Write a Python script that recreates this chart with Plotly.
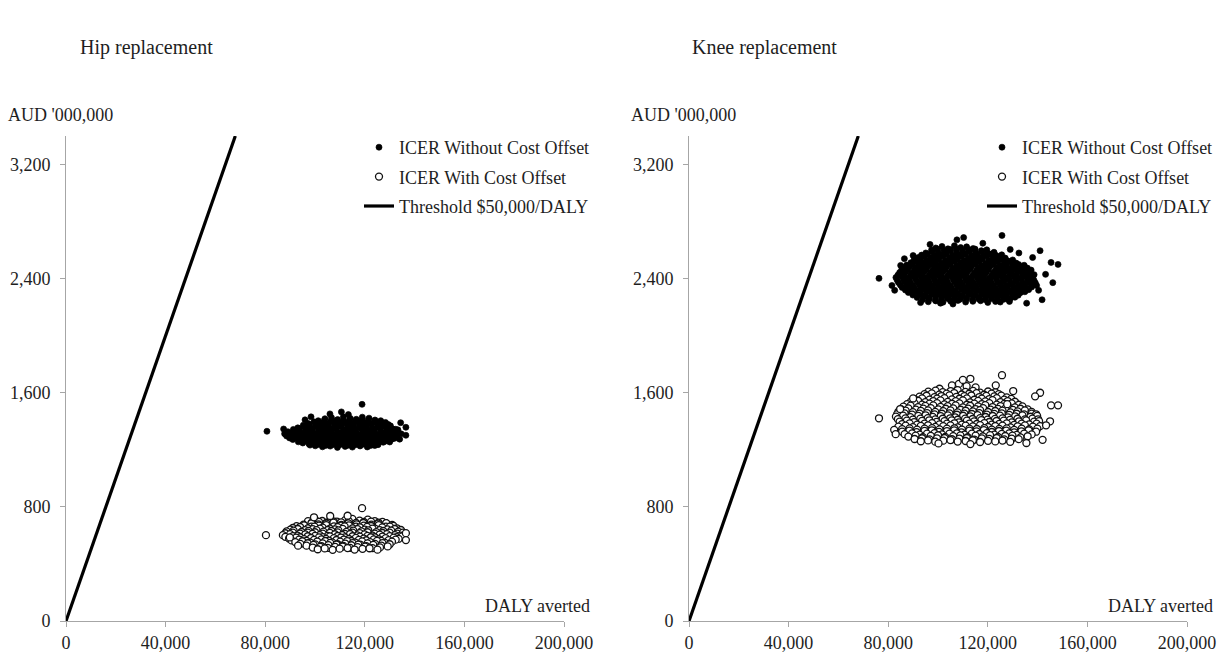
import plotly.graph_objects as go

# ---------------- data (DALY averted, AUD '000,000) ----------------
x_tick_vals = [0, 40000, 80000, 120000, 160000, 200000]
x_tick_text = ["0", "40,000", "80,000", "120,000", "160,000", "200,000"]
y_tick_vals = [0, 800, 1600, 2400, 3200]
y_tick_text = ["0", "800", "1,600", "2,400", "3,200"]

threshold_daly = [0, 68000]
threshold_cost = [0, 3400]

hip_without = [
    (104000,1418),(106600,1426),(109100,1412),(111400,1431),(114200,1420),(116600,1414),(119000,1429),(121700,1422),(124100,1409),(126400,1404),
    (101300,1404),(103800,1409),(106300,1400),(108800,1407),(111300,1403),(113800,1410),(116300,1401),(118800,1406),(121300,1408),(123800,1399),(126300,1395),(128300,1392),
    (97200,1385),(99600,1396),(102100,1389),(104700,1381),(107000,1399),(109600,1387),(112100,1393),(114500,1385),(117200,1397),(119600,1390),(122000,1383),(124600,1394),(127100,1388),(129400,1378),
    (95300,1373),(97800,1378),(100300,1370),(102800,1377),(105300,1380),(107800,1371),(110300,1376),(112800,1379),(115300,1369),(117800,1377),(120300,1374),(122800,1380),(125300,1370),(127800,1375),(130300,1368),
    (93100,1354),(95600,1363),(98000,1357),(100600,1366),(103100,1351),(105500,1361),(108100,1355),(110600,1365),(113000,1349),(115600,1362),(118100,1356),(120500,1367),(123100,1352),(125600,1360),(128000,1363),(130600,1349),(132400,1344),
    (91300,1343),(93800,1348),(96300,1340),(98800,1347),(101300,1350),(103800,1341),(106300,1346),(108800,1349),(111300,1339),(113800,1347),(116300,1344),(118800,1350),(121300,1340),(123800,1345),(126300,1348),(128800,1338),(131300,1346),(133300,1340),
    (89100,1327),(91600,1336),(94000,1324),(96600,1333),(99100,1331),(101500,1325),(104100,1335),(106600,1327),(109000,1321),(111600,1337),(114100,1330),(116500,1324),(119100,1334),(121600,1326),(124000,1332),(126600,1323),(129100,1337),(131500,1328),(133400,1321),
    (87800,1313),(90300,1318),(92800,1310),(95300,1317),(97800,1320),(100300,1311),(102800,1316),(105300,1319),(107800,1309),(110300,1317),(112800,1314),(115300,1320),(117800,1310),(120300,1315),(122800,1318),(125300,1308),(127800,1316),(130300,1311),(132800,1317),(134600,1312),
    (88600,1297),(91100,1306),(93500,1294),(96100,1303),(98600,1300),(101000,1295),(103600,1307),(106100,1298),(108500,1292),(111100,1305),(113600,1301),(116000,1295),(118600,1304),(121100,1297),(123500,1291),(126100,1306),(128600,1300),(131000,1293),(132900,1303),
    (89800,1283),(92300,1288),(94800,1280),(97300,1287),(99800,1290),(102300,1281),(104800,1286),(107300,1289),(109800,1279),(112300,1287),(114800,1284),(117300,1290),(119800,1280),(122300,1285),(124800,1288),(127300,1278),(129800,1286),(132000,1281),
    (91100,1272),(93600,1264),(96000,1276),(98600,1267),(101100,1270),(103500,1263),(106100,1277),(108600,1268),(111000,1265),(113600,1274),(116100,1266),(118500,1276),(121100,1270),(123600,1261),(126000,1271),(128600,1267),(130900,1275),
    (93300,1256),(95800,1261),(98300,1253),(100800,1260),(103300,1262),(105800,1254),(108300,1259),(110800,1261),(113300,1252),(115800,1260),(118300,1257),(120800,1263),(123300,1253),(125800,1258),(128300,1261),(130000,1255),
    (95100,1248),(97600,1241),(100000,1245),(102600,1239),(105100,1251),(107500,1242),(110100,1237),(112600,1246),(115000,1240),(117600,1250),(120100,1244),(122500,1238),(125100,1247),(127400,1253),
    (98000,1233),(101300,1238),(104300,1231),(107300,1237),(110300,1240),(113300,1232),(116300,1236),(119300,1239),(122300,1230),(125300,1236),
    (100100,1228),(103000,1221),(106100,1226),(109000,1217),(112100,1224),(115000,1219),(118100,1227),(121000,1220),(124000,1230),
    (80700,1330),(118900,1519),(136500,1358),(136500,1302),(87400,1346),(88100,1311),(106000,1452),(110600,1466),(98400,1431),(134400,1390),(113400,1447),(96000,1410),(134000,1275),
]

hip_with = [
    (97200,700),(100100,709),(102900,701),(106200,713),(108800,697),(112100,707),(115000,716),(117900,703),(121200,710),(124000,700),(127100,695),
    (98700,690),(101600,695),(104500,688),(107600,697),(110500,692),(113600,699),(116500,687),(119600,694),(122500,696),(125500,689),(128600,684),
    (95400,676),(98600,685),(101400,677),(104600,683),(107400,689),(110600,674),(113400,684),(116700,678),(119400,687),(122600,676),(125400,682),(128600,686),(131000,673),
    (92600,665),(95600,670),(98500,662),(101600,669),(104500,672),(107600,663),(110500,668),(113600,671),(116500,661),(119600,669),(122500,666),(125600,672),(128500,662),(131500,667),
    (91100,652),(94000,659),(97100,649),(99800,661),(103100,655),(106000,648),(109100,658),(111900,663),(115100,650),(118000,657),(120900,660),(124100,647),(127000,656),(130100,662),(132900,650),
    (90100,640),(93100,645),(96000,637),(99100,644),(102000,647),(105100,638),(108000,643),(111100,646),(114000,636),(117100,644),(120000,641),(123100,647),(126000,637),(129100,642),(132000,645),(134500,638),
    (88600,628),(91400,634),(94600,624),(97400,632),(100600,637),(103400,626),(106600,631),(109400,635),(112600,625),(115400,633),(118600,628),(121400,636),(124600,623),(127400,631),(130600,634),(133400,626),
    (88100,615),(91100,620),(94000,612),(97100,619),(100000,622),(103100,613),(106000,618),(109100,621),(112000,611),(115100,619),(118000,616),(121100,622),(124000,612),(127100,617),(130000,620),(133000,613),(135300,619),
    (87100,602),(90000,609),(92900,599),(96100,607),(99000,611),(101900,602),(105100,597),(108000,608),(110900,603),(114100,610),(117000,600),(119900,607),(123100,598),(126000,606),(128900,609),(132100,602),(134400,599),
    (88100,590),(91100,595),(94000,587),(97100,594),(100000,597),(103100,588),(106000,593),(109100,596),(112000,586),(115100,594),(118000,591),(121100,597),(124000,587),(127100,592),(130000,595),(132800,588),(135000,593),
    (89600,578),(92400,584),(95600,574),(98400,582),(101600,586),(104400,576),(107600,581),(110400,585),(113600,575),(116400,583),(119600,578),(122400,587),(125600,573),(128400,581),(131600,584),(133600,576),
    (90600,565),(93600,570),(96600,562),(99600,569),(102600,572),(105600,563),(108600,568),(111600,571),(114600,561),(117600,569),(120600,566),(123600,572),(126600,562),(129600,567),(132400,570),
    (92100,553),(94900,559),(98100,549),(100900,557),(104100,561),(106900,551),(110100,556),(112900,560),(116100,550),(118900,558),(122100,553),(124900,562),(128100,548),(130900,556),
    (94100,540),(97100,545),(100100,537),(103100,544),(106100,547),(109100,538),(112100,543),(115100,546),(118100,536),(121100,544),(124100,541),(127100,546),(130000,538),
    (96600,528),(99400,534),(102600,524),(105400,532),(108600,536),(111400,526),(114600,531),(117400,535),(120600,525),(123400,533),(126600,529),(129200,523),
    (99100,515),(102100,520),(105100,512),(108100,519),(111100,522),(114100,513),(117100,518),(120100,521),(123100,511),(126100,516),
    (101100,503),(103900,509),(107100,499),(109900,507),(113100,511),(115900,501),(119100,506),(121900,510),(125100,500),
    (80300,602),(118900,791),(136500,616),(136500,567),(113100,738),(99600,727),(106100,736),(89900,586),(93200,528),
]

knee_without = [
    (99100,2615),(101600,2626),(104000,2609),(106600,2631),(109100,2618),(111500,2623),(114100,2611),
    (97400,2600),(99900,2606),(102400,2597),(104900,2604),(107400,2608),(109900,2598),(112400,2603),(114900,2607),(117400,2596),(119600,2602),
    (95100,2580),(97600,2591),(100000,2584),(102600,2577),(105100,2593),(107500,2586),(110100,2581),(112600,2590),(115000,2583),(117600,2592),(120100,2576),(122500,2585),
    (93400,2565),(95900,2570),(98400,2562),(100900,2569),(103400,2572),(105900,2563),(108400,2568),(110900,2571),(113400,2561),(115900,2569),(118400,2566),(120900,2572),(123400,2562),(125600,2567),
    (92100,2548),(94500,2556),(97100,2544),(99600,2552),(102000,2559),(104600,2546),(107100,2551),(109500,2557),(112100,2543),(114600,2553),(117000,2549),(119600,2558),(122100,2546),(124500,2552),(127000,2544),
    (90400,2530),(92900,2535),(95400,2527),(97900,2534),(100400,2537),(102900,2528),(105400,2533),(107900,2536),(110400,2526),(112900,2534),(115400,2531),(117900,2537),(120400,2527),(122900,2532),(125400,2535),(127900,2525),(130000,2531),
    (89100,2512),(91600,2519),(94000,2509),(96600,2521),(99100,2514),(101500,2508),(104100,2518),(106600,2522),(109000,2510),(111600,2516),(114100,2513),(116500,2520),(119100,2507),(121600,2515),(124000,2521),(126600,2511),(129100,2518),(131400,2509),
    (87400,2495),(89900,2500),(92400,2492),(94900,2499),(97400,2502),(99900,2493),(102400,2498),(104900,2501),(107400,2491),(109900,2499),(112400,2496),(114900,2502),(117400,2492),(119900,2497),(122400,2500),(124900,2490),(127400,2498),(129900,2493),(132400,2499),(134600,2494),
    (86100,2478),(88600,2485),(91000,2474),(93600,2483),(96100,2488),(98500,2476),(101100,2481),(103600,2486),(106000,2473),(108600,2484),(111100,2479),(113500,2487),(116100,2475),(118600,2482),(121000,2489),(123600,2477),(126100,2483),(128500,2472),(131100,2485),(133600,2479),(135900,2474),
    (85400,2460),(87900,2465),(90400,2457),(92900,2464),(95400,2467),(97900,2458),(100400,2463),(102900,2466),(105400,2456),(107900,2464),(110400,2461),(112900,2467),(115400,2457),(117900,2462),(120400,2465),(122900,2455),(125400,2463),(127900,2458),(130400,2464),(132900,2459),(135400,2465),(137400,2460),
    (84600,2443),(87100,2450),(89500,2438),(92100,2447),(94600,2452),(97000,2441),(99600,2446),(102100,2451),(104500,2439),(107100,2448),(109600,2444),(112000,2453),(114600,2440),(117100,2447),(119500,2449),(122100,2437),(124600,2445),(127000,2451),(129600,2442),(132100,2448),(134500,2440),(137000,2446),
    (83900,2425),(86400,2430),(88900,2422),(91400,2429),(93900,2432),(96400,2423),(98900,2428),(101400,2431),(103900,2421),(106400,2429),(108900,2426),(111400,2432),(113900,2422),(116400,2427),(118900,2430),(121400,2420),(123900,2428),(126400,2423),(128900,2429),(131400,2424),(133900,2430),(136400,2425),(138600,2428),
    (83100,2408),(85600,2415),(88000,2404),(90600,2412),(93100,2417),(95500,2406),(98100,2411),(100600,2416),(103000,2403),(105600,2413),(108100,2409),(110500,2418),(113100,2405),(115600,2412),(118000,2414),(120600,2402),(123100,2410),(125500,2416),(128100,2407),(130600,2413),(133000,2405),(135600,2411),(138100,2404),
    (83600,2390),(86100,2395),(88600,2387),(91100,2394),(93600,2397),(96100,2388),(98600,2393),(101100,2396),(103600,2386),(106100,2394),(108600,2391),(111100,2397),(113600,2387),(116100,2392),(118600,2395),(121100,2385),(123600,2393),(126100,2388),(128600,2394),(131100,2389),(133600,2395),(136100,2390),(138600,2386),
    (84100,2373),(86600,2380),(89000,2369),(91600,2378),(94100,2382),(96500,2371),(99100,2376),(101600,2381),(104000,2368),(106600,2379),(109100,2374),(111500,2383),(114100,2370),(116600,2377),(119000,2380),(121600,2367),(124100,2375),(126500,2381),(129100,2372),(131600,2378),(134000,2370),(136600,2376),(139100,2369),
    (84900,2355),(87400,2360),(89900,2352),(92400,2359),(94900,2362),(97400,2353),(99900,2358),(102400,2361),(104900,2351),(107400,2359),(109900,2356),(112400,2362),(114900,2352),(117400,2357),(119900,2360),(122400,2350),(124900,2358),(127400,2353),(129900,2359),(132400,2354),(134900,2360),(137400,2355),(139600,2352),
    (85600,2338),(88100,2345),(90500,2334),(93100,2343),(95600,2347),(98000,2336),(100600,2341),(103100,2346),(105500,2333),(108100,2344),(110600,2339),(113000,2348),(115600,2335),(118100,2342),(120500,2345),(123100,2332),(125600,2340),(128000,2346),(130600,2337),(133100,2343),(135500,2335),(137600,2341),
    (86900,2320),(89400,2325),(91900,2317),(94400,2324),(96900,2327),(99400,2318),(101900,2323),(104400,2326),(106900,2316),(109400,2324),(111900,2321),(114400,2327),(116900,2317),(119400,2322),(121900,2325),(124400,2315),(126900,2323),(129400,2318),(131900,2324),(134400,2319),(136400,2323),
    (88100,2303),(90600,2310),(93000,2299),(95600,2308),(98100,2312),(100500,2301),(103100,2306),(105600,2311),(108000,2298),(110600,2309),(113100,2304),(115500,2313),(118100,2300),(120600,2307),(123000,2310),(125600,2297),(128100,2305),(130500,2311),(133100,2302),(134900,2308),
    (89900,2285),(92400,2290),(94900,2282),(97400,2289),(99900,2292),(102400,2283),(104900,2288),(107400,2291),(109900,2281),(112400,2289),(114900,2286),(117400,2292),(119900,2282),(122400,2287),(124900,2290),(127400,2280),(129900,2288),(132200,2284),
    (91600,2268),(94100,2275),(96500,2264),(99100,2273),(101600,2277),(104000,2266),(106600,2271),(109100,2276),(111500,2263),(114100,2274),(116600,2269),(119000,2278),(121600,2265),(124100,2272),(126500,2275),(129100,2262),(130900,2270),
    (93900,2253),(96400,2258),(98900,2250),(101400,2257),(103900,2260),(106400,2251),(108900,2256),(111400,2259),(113900,2249),(116400,2257),(118900,2254),(121400,2260),(123900,2250),(126400,2255),(128400,2252),
    (96100,2238),(99100,2244),(102000,2235),(105100,2242),(108000,2247),(111100,2236),(114000,2241),(117100,2245),(120000,2233),(123100,2240),(125000,2236),
    (76300,2402),(125700,2703),(145400,2514),(148200,2500),(110300,2688),(107600,2672),(141000,2596),(138000,2548),(143200,2430),(140400,2318),(146100,2372),(135600,2228),(141800,2252),(90000,2562),(85000,2493),(81500,2352),(82600,2318),(101000,2228),(96800,2640),(118000,2648),(129000,2605),(132500,2580),(86500,2540),(93000,2232),(128700,2240),(106000,2222),
]

knee_with = [
    (100600,1628),(105600,1652),(108400,1662),(111500,1646),(115100,1638),
    (96100,1608),(99000,1615),(101900,1604),(105100,1612),(107900,1618),(111000,1606),(114100,1613),(116900,1601),(120100,1609),(123000,1604),
    (94600,1590),(97500,1596),(100500,1587),(103500,1594),(106500,1598),(109500,1588),(112500,1593),(115500,1597),(118500,1586),(121500,1594),(124400,1590),
    (92600,1573),(95400,1579),(98600,1569),(101400,1577),(104600,1582),(107400,1571),(110600,1576),(113400,1581),(116600,1570),(119400,1578),(122600,1574),(125400,1580),(127600,1568),
    (90600,1555),(93600,1560),(96600,1552),(99600,1559),(102600,1562),(105600,1553),(108600,1558),(111600,1561),(114600,1551),(117600,1559),(120600,1556),(123600,1562),(126600,1552),(129400,1557),
    (89100,1538),(92000,1544),(94900,1534),(98100,1542),(101000,1547),(103900,1536),(107100,1541),(110000,1546),(112900,1533),(116100,1543),(119000,1539),(121900,1548),(125100,1535),(128000,1542),(130900,1537),
    (87600,1520),(90600,1525),(93600,1517),(96600,1524),(99600,1527),(102600,1518),(105600,1523),(108600,1526),(111600,1516),(114600,1524),(117600,1521),(120600,1527),(123600,1517),(126600,1522),(129600,1525),(132400,1516),
    (86100,1503),(89000,1510),(92000,1499),(94900,1508),(98100,1512),(101000,1501),(103900,1506),(107100,1511),(110000,1498),(112900,1509),(116100,1504),(119000,1513),(121900,1500),(125100,1507),(128000,1510),(130900,1497),(133900,1505),
    (85100,1485),(88100,1490),(91100,1482),(94100,1489),(97100,1492),(100100,1483),(103100,1488),(106100,1491),(109100,1481),(112100,1489),(115100,1486),(118100,1492),(121100,1482),(124100,1487),(127100,1490),(130100,1480),(133100,1488),(136000,1483),
    (84100,1468),(87000,1475),(89900,1464),(93100,1473),(96000,1477),(98900,1466),(102100,1471),(105000,1476),(107900,1463),(111100,1474),(114000,1469),(116900,1478),(120100,1465),(123000,1472),(125900,1475),(129100,1462),(132000,1470),(134900,1476),(137600,1466),
    (83600,1450),(86600,1455),(89600,1447),(92600,1454),(95600,1457),(98600,1448),(101600,1453),(104600,1456),(107600,1446),(110600,1454),(113600,1451),(116600,1457),(119600,1447),(122600,1452),(125600,1455),(128600,1445),(131600,1453),(134600,1448),(137600,1454),(139400,1449),
    (83100,1433),(86000,1440),(88900,1429),(92100,1438),(95000,1442),(97900,1431),(101100,1436),(104000,1441),(106900,1428),(110100,1439),(113000,1434),(115900,1443),(119100,1430),(122000,1437),(124900,1440),(128100,1427),(131000,1435),(133900,1441),(137100,1432),(139800,1438),
    (83900,1415),(86900,1420),(89900,1412),(92900,1419),(95900,1422),(98900,1413),(101900,1418),(104900,1421),(107900,1411),(110900,1419),(113900,1416),(116900,1422),(119900,1412),(122900,1417),(125900,1420),(128900,1410),(131900,1418),(134900,1413),(137900,1419),(140200,1414),
    (84600,1398),(87500,1405),(90400,1394),(93600,1403),(96500,1407),(99400,1396),(102600,1401),(105500,1406),(108400,1393),(111600,1404),(114500,1399),(117400,1408),(120600,1395),(123500,1402),(126400,1405),(129600,1392),(132500,1400),(135400,1406),(138600,1397),(140600,1401),
    (85600,1380),(88600,1385),(91600,1377),(94600,1384),(97600,1387),(100600,1378),(103600,1383),(106600,1386),(109600,1376),(112600,1384),(115600,1381),(118600,1387),(121600,1377),(124600,1382),(127600,1385),(130600,1375),(133600,1383),(136600,1378),(139600,1384),
    (84100,1363),(87000,1370),(89900,1359),(93100,1368),(96000,1372),(98900,1361),(102100,1366),(105000,1371),(107900,1358),(111100,1369),(114000,1364),(116900,1373),(120100,1360),(123000,1367),(125900,1370),(129100,1357),(132000,1365),(134900,1371),(138100,1362),(141000,1366),
    (85600,1345),(88600,1350),(91600,1342),(94600,1349),(97600,1352),(100600,1343),(103600,1348),(106600,1351),(109600,1341),(112600,1349),(115600,1346),(118600,1352),(121600,1342),(124600,1347),(127600,1350),(130600,1340),(133600,1348),(136600,1343),(139900,1349),
    (85600,1328),(88500,1335),(91400,1324),(94600,1333),(97500,1337),(100400,1326),(103600,1331),(106500,1336),(109400,1323),(112600,1334),(115500,1329),(118400,1338),(121600,1325),(124500,1332),(127400,1335),(130600,1322),(133500,1330),(136400,1336),(139400,1327),
    (86600,1310),(89600,1315),(92600,1307),(95600,1314),(98600,1317),(101600,1308),(104600,1313),(107600,1316),(110600,1306),(113600,1314),(116600,1311),(119600,1317),(122600,1307),(125600,1312),(128600,1315),(131600,1305),(134600,1313),(137600,1308),
    (88100,1293),(91000,1300),(93900,1289),(97100,1298),(100000,1302),(102900,1291),(106100,1296),(109000,1301),(111900,1288),(115100,1299),(118000,1294),(120900,1303),(124100,1290),(127000,1297),(129900,1300),(133100,1287),(136000,1295),
    (90600,1276),(93600,1281),(96600,1273),(99600,1280),(102600,1283),(105600,1274),(108600,1279),(111600,1282),(114600,1272),(117600,1280),(120600,1277),(123600,1283),(126600,1273),(129600,1278),(132400,1275),
    (93100,1260),(96000,1266),(98900,1257),(102100,1264),(105000,1268),(107900,1258),(111100,1262),(114000,1267),(116900,1255),(120100,1263),(123000,1259),(125900,1265),(129000,1256),
    (76300,1421),(125700,1723),(145400,1512),(148200,1512),(141000,1600),(139000,1575),(142000,1270),(135500,1248),(130200,1612),(123200,1652),(90000,1560),(145000,1400),(143400,1372),(84800,1486),(82400,1340),(83000,1310),(100200,1245),(113000,1240),(127800,1520),(110000,1690),(113000,1698),
]

panel_titles = ["Hip replacement", "Knee replacement"]
series_names = ["ICER Without Cost Offset", "ICER With Cost Offset", "Threshold $50,000/DALY"]

# ---------------- figure ----------------
W, H = 1217, 659
FONT = "Liberation Serif, Times New Roman, Times, DejaVu Serif, serif"
TXT = "#1e1e1e"
AX = "#a6a6a6"

def px(v):
    return v / W

def py(v):
    return (H - v) / H

fig = go.Figure()

panels = [
    (hip_without, hip_with, "x", "y", "legend", "h"),
    (knee_without, knee_with, "x2", "y2", "legend2", "k"),
]
for without, with_, xa, ya, lg, g in panels:
    fig.add_trace(go.Scatter(
        x=[p[0] for p in without], y=[p[1] for p in without], mode="markers",
        name=series_names[0], xaxis=xa, yaxis=ya, legend=lg, legendgroup=g + "1",
        marker=dict(symbol="circle", size=6, color="#000000", line=dict(width=0.7, color="#000000")),
        hoverinfo="skip"))
    fig.add_trace(go.Scatter(
        x=[p[0] for p in with_], y=[p[1] for p in with_], mode="markers",
        name=series_names[1], xaxis=xa, yaxis=ya, legend=lg, legendgroup=g + "2",
        marker=dict(symbol="circle", size=7, color="#ffffff", line=dict(width=1.3, color="#111111")),
        hoverinfo="skip"))
    fig.add_trace(go.Scatter(
        x=threshold_daly, y=threshold_cost, mode="lines",
        name=series_names[2], xaxis=xa, yaxis=ya, legend=lg, legendgroup=g + "3",
        line=dict(color="#000000", width=3.2),
        hoverinfo="skip"))

y_dom = [py(621), py(136)]
common_x = dict(range=[0, 200000], tickvals=x_tick_vals, ticktext=x_tick_text,
                showline=True, linecolor=AX, linewidth=1, ticks="outside", ticklen=5,
                tickcolor=AX, showgrid=False, zeroline=False, automargin=False,
                tickfont=dict(family=FONT, size=18, color=TXT), fixedrange=True)
common_y = dict(range=[0, 3400], tickvals=y_tick_vals, ticktext=y_tick_text,
                showline=True, linecolor=AX, linewidth=1, ticks="outside", ticklen=5,
                tickcolor=AX, showgrid=False, zeroline=False, automargin=False,
                tickfont=dict(family=FONT, size=18, color=TXT), fixedrange=True,
                ticklabelstandoff=6)

legend_common = dict(xanchor="left", yanchor="top", bgcolor="rgba(0,0,0,0)",
                     font=dict(family=FONT, size=18, color=TXT), itemwidth=30,
                     tracegroupgap=3, traceorder="grouped", borderwidth=0)

fig.update_layout(
    width=W, height=H,
    margin=dict(l=0, r=0, t=0, b=0, autoexpand=False),
    paper_bgcolor="#ffffff", plot_bgcolor="#ffffff",
    showlegend=True,
    xaxis=dict(domain=[px(66), px(564)], anchor="y", **common_x),
    yaxis=dict(domain=y_dom, anchor="x", **common_y),
    xaxis2=dict(domain=[px(689), px(1187)], anchor="y2", **common_x),
    yaxis2=dict(domain=y_dom, anchor="x2", **common_y),
    legend=dict(x=px(359), y=py(129), **legend_common),
    legend2=dict(x=px(982), y=py(129), **legend_common),
)

annots = [
    dict(text=panel_titles[0], x=px(146), y=py(47), xanchor="center", yanchor="middle", font=dict(size=20)),
    dict(text=panel_titles[1], x=px(764), y=py(47), xanchor="center", yanchor="middle", font=dict(size=20)),
    dict(text="AUD '000,000", x=px(6), y=py(115), xanchor="left", yanchor="middle", font=dict(size=18)),
    dict(text="AUD '000,000", x=px(629), y=py(115), xanchor="left", yanchor="middle", font=dict(size=18)),
    dict(text="DALY averted", x=px(592), y=py(606), xanchor="right", yanchor="middle", font=dict(size=18)),
    dict(text="DALY averted", x=px(1215), y=py(606), xanchor="right", yanchor="middle", font=dict(size=18)),
]
for a in annots:
    a["font"].update(family=FONT, color=TXT)
    fig.add_annotation(xref="paper", yref="paper", showarrow=False, **a)

fig.write_html(
    "out.html",
    config={"displayModeBar": False},
    post_script="document.body.style.margin='0px';document.body.style.padding='0px';document.body.style.overflow='hidden';",
)
